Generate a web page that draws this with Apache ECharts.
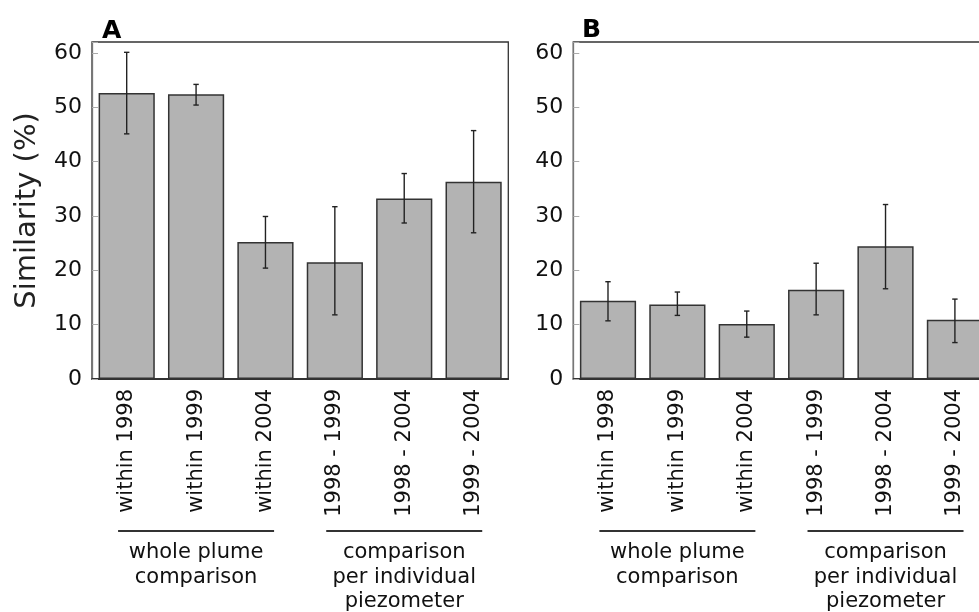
<!DOCTYPE html>
<html><head><meta charset="utf-8">
<script src="https://cdn.jsdelivr.net/npm/echarts@6/dist/echarts.min.js"></script>
<style>html,body{margin:0;padding:0;background:#fff;overflow:hidden;width:979px;height:612px}#c{width:992px;height:612px}</style>
</head><body><div id="c"></div>
<script>
const categories = ['within 1998','within 1999','within 2004','1998 - 1999','1998 - 2004','1999 - 2004'];
const aMean = [52.6, 52.4, 25.2, 21.5, 33.2, 36.3];
const aLow  = [45.1, 50.4, 20.4, 11.8, 28.7, 26.9];
const aHigh = [60.1, 54.2, 29.9, 31.7, 37.8, 45.7];
const bMean = [14.4, 13.7, 10.1, 16.4, 24.4, 10.9];
const bLow  = [10.7, 11.7, 7.7, 11.8, 16.6, 6.7];
const bHigh = [17.9, 16.0, 12.5, 21.3, 32.1, 14.7];
const yTicks = [0, 10, 20, 30, 40, 50, 60];
const groups = [
  {lines: ['whole plume', 'comparison'], from: 0, to: 2},
  {lines: ['comparison', 'per individual', 'piezometer'], from: 3, to: 5}
];
const FONT = 'DejaVu Sans';

const chart = echarts.init(document.getElementById('c'));
const grids = [
  {left: 92, top: 42, width: 416.3, height: 337, show: true, borderColor: '#333', borderWidth: 1.3, backgroundColor: 'transparent'},
  {left: 573.3, top: 42, width: 416.3, height: 337, show: true, borderColor: '#333', borderWidth: 1.3, backgroundColor: 'transparent'}
];
function xAxis(i) {
  return {type: 'category', gridIndex: i, data: categories,
    axisLine: {lineStyle: {color: '#222', width: 1.5}}, axisTick: {show: false},
    axisLabel: {rotate: 90, interval: 0, fontSize: 21, fontFamily: FONT, color: '#111', margin: 10}};
}
function yAxis(i) {
  return {type: 'value', gridIndex: i, min: 0, max: 62, interval: 10,
    name: i === 0 ? 'Similarity (%)' : '', nameLocation: 'middle', nameGap: 50,
    nameTextStyle: {fontSize: 29, fontFamily: FONT, color: '#222'},
    axisLine: {show: true, lineStyle: {color: '#777', width: 1.3}},
    axisTick: {show: true, inside: true, length: 6, lineStyle: {color: '#aaa'}},
    splitLine: {show: false},
    axisLabel: {fontSize: 22, fontFamily: FONT, color: '#111', margin: 10,
      formatter: v => yTicks.indexOf(v) >= 0 ? String(v) : ''}};
}
function bars(i, data) {
  return {type: 'bar', xAxisIndex: i, yAxisIndex: i, data: data, barCategoryGap: '19%',
    itemStyle: {color: '#b3b3b3', borderColor: '#333', borderWidth: 1.5}, silent: true, z: 2};
}
function errs(i, lo, hi) {
  return {type: 'custom', xAxisIndex: i, yAxisIndex: i, silent: true, z: 5, clip: false,
    data: lo.map((l, k) => [k, l, hi[k]]),
    renderItem: function (params, api) {
      const p1 = api.coord([api.value(0), api.value(1)]);
      const p2 = api.coord([api.value(0), api.value(2)]);
      const hw = 2.7;
      const st = {stroke: '#222', lineWidth: 1.4};
      return {type: 'group', children: [
        {type: 'line', shape: {x1: p1[0], y1: p1[1], x2: p2[0], y2: p2[1]}, style: st},
        {type: 'line', shape: {x1: p1[0] - hw, y1: p1[1], x2: p1[0] + hw, y2: p1[1]}, style: st},
        {type: 'line', shape: {x1: p2[0] - hw, y1: p2[1], x2: p2[0] + hw, y2: p2[1]}, style: st}
      ]};
    }};
}
chart.setOption({
  animation: false,
  backgroundColor: '#fff',
  title: [
    {text: 'A', left: 97, top: 14, textStyle: {fontSize: 25, fontWeight: 'bold', fontFamily: FONT, color: '#000'}},
    {text: 'B', left: 577, top: 13, textStyle: {fontSize: 25, fontWeight: 'bold', fontFamily: FONT, color: '#000'}}
  ],
  grid: grids,
  xAxis: [xAxis(0), xAxis(1)],
  yAxis: [yAxis(0), yAxis(1)],
  series: [bars(0, aMean), errs(0, aLow, aHigh), bars(1, bMean), errs(1, bLow, bHigh)]
});

// group annotations below the category labels
const gfx = [];
[0, 1].forEach(gi => {
  groups.forEach(g => {
    const mid = (g.from + g.to) / 2;
    const c = chart.convertToPixel({gridIndex: gi}, [mid, 0]);
    const halfW = 78;
    const lineY = 531;
    gfx.push({type: 'line', shape: {x1: c[0] - halfW, y1: lineY, x2: c[0] + halfW, y2: lineY},
      style: {stroke: '#333', lineWidth: 2}});
    g.lines.forEach((t, li) => {
      gfx.push({type: 'text', x: c[0], y: 553 + li * 24.5,
        style: {text: t, fontSize: 21, fontFamily: FONT, fill: '#111', align: 'center', verticalAlign: 'middle'}});
    });
  });
});
chart.setOption({graphic: gfx});
</script>
</body></html>
